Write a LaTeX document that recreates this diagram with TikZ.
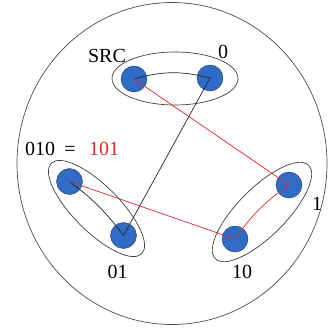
\documentclass[tikz,border=0pt]{standalone}
\usepackage{fontspec}
\setmainfont{Liberation Serif}
\usepackage{tikz}
\usepackage{xcolor}

\definecolor{dotblue}{RGB}{46,108,200}
\definecolor{dotedge}{RGB}{30,55,110}
\definecolor{pathred}{RGB}{228,40,40}

\begin{document}
\begin{tikzpicture}[x=1pt,y=-1pt,
    dot/.style={circle,draw=dotedge,fill=dotblue,inner sep=0pt,minimum size=26pt},
    group/.style={draw=black!75,line width=0.7pt},
    lab/.style={font=\fontsize{20}{22}\selectfont,inner sep=0pt,anchor=base},
    blackpath/.style={draw=black!85,line width=0.7pt},
    redpath/.style={draw=pathred,line width=0.7pt}]
    \useasboundingbox (0,0) rectangle (330,330);

    % Outer circle
    \draw[black!70,line width=0.7pt] (172,163.5) ellipse [x radius=155,y radius=161];

    % Groups
    \draw[group] (175,78.5) ellipse [x radius=63,y radius=26.5];
    \draw[group,rotate around={-45:(96.5,208.5)}] (96.5,208.5) ellipse [x radius=64,y radius=23];
    \draw[group,rotate around={45:(262,212)}] (262,212) ellipse [x radius=66,y radius=24];

    % Nodes
    \node[dot] (src) at (134,79) {};
    \node[dot] (n0) at (210,78) {};
    \node[dot] (n010) at (69.5,181.5) {};
    \node[dot] (n01) at (123.5,235.5) {};
    \node[dot] (n1) at (289,185) {};
    \node[dot] (n10) at (235,239) {};

    % Labels
    \node[lab] (srclab) at (107,62) {SRC};
    \node[lab] (lab0) at (223,58) {0};
    \node[lab] (lab010) at (40,155) {010};
    \node[lab] (labeq) at (70,155) {=};
    \node[lab,text=pathred] (lab101) at (104,155) {101};
    \node[lab] (lab1) at (317,210) {1};
    \node[lab] (lab01) at (117.5,278) {01};
    \node[lab] (lab10) at (242,278) {10};

    % Connections
    \draw[blackpath] (src.center) to[bend left=15] (n0.center) -- (n01.center)
        to[bend right=8] (n010.center);
    \draw[redpath] (src.center) -- (n1.center) to[bend right=10] (n10.center)
        -- (n010.center);
\end{tikzpicture}
\end{document}
